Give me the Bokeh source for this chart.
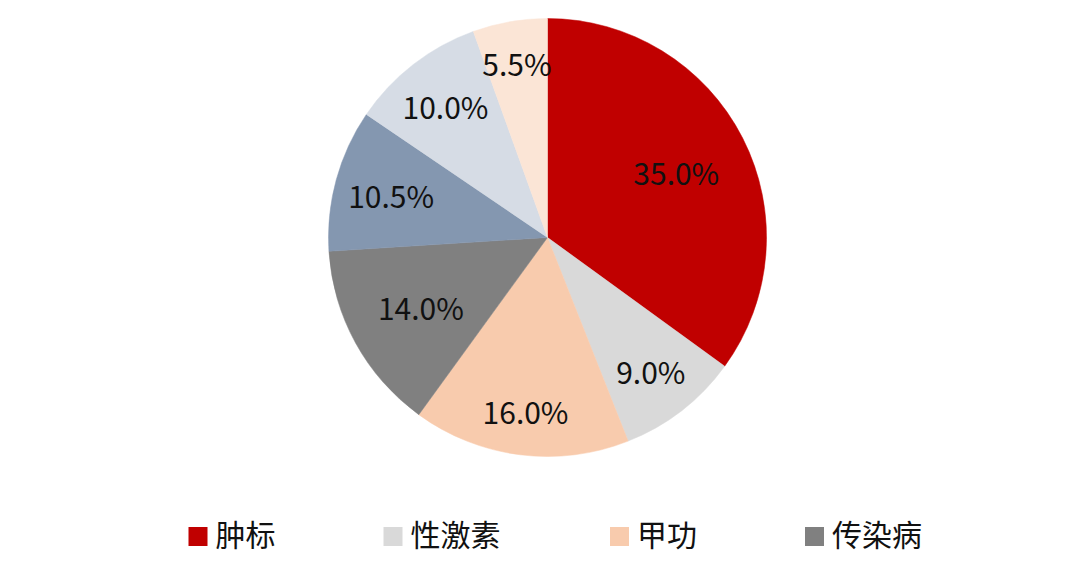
import math
from bokeh.plotting import figure
from bokeh.models import Range1d, ColumnDataSource
from bokeh.core.properties import value
from bokeh.embed import file_html
from bokeh.resources import INLINE

# ---- data ----
categories = ["肿标", "性激素", "甲功", "传染病", "类别5", "类别6", "类别7"]
shares = [35.0, 9.0, 16.0, 14.0, 10.5, 10.0, 5.5]
legend_categories = ["肿标", "性激素", "甲功", "传染病"]

# ---- style ----
colors = ["#C00000", "#D9D9D9", "#F8CBAD", "#808080", "#8497B0", "#D6DCE5", "#FBE5D6"]
label_radius_frac = [0.66, 0.77, 0.80, 0.66, 0.74, 0.76, 0.81]
FONT = "Noto Sans CJK SC"
W, H = 1064, 556

p = figure(width=W, height=H, x_range=Range1d(0, W), y_range=Range1d(0, H),
           output_backend="svg", toolbar_location=None,
           x_axis_location=None, y_axis_location=None, min_border=0)
p.grid.visible = False
p.outline_line_color = None
p.background_fill_color = "white"
p.border_fill_color = "white"

cx, cy, R = 547, H - 237, 219
total = sum(shares)
starts, ends, lx, ly, labels = [], [], [], [], []
cum = 0.0
for i, s in enumerate(shares):
    a0 = math.pi / 2 - 2 * math.pi * cum / total
    a1 = math.pi / 2 - 2 * math.pi * (cum + s) / total
    starts.append(a0)
    ends.append(a1)
    mid = (a0 + a1) / 2
    r = R * label_radius_frac[i]
    lx.append(cx + r * math.cos(mid))
    ly.append(cy + r * math.sin(mid))
    labels.append(f"{s:.1f}%")
    cum += s

src = ColumnDataSource(dict(start=starts, end=ends, color=colors, lx=lx, ly=ly, label=labels))
p.wedge(x=cx, y=cy, radius=R, start_angle="start", end_angle="end", direction="clock",
        fill_color="color", line_color="color", line_width=0.5, source=src)
p.text(x="lx", y="ly", text="label", source=src, text_align="center", text_baseline="middle",
       text_font=value(FONT), text_font_size="30px", text_color="#111111")

# legend (manual)
leg_y = H - 536
sq = 19
x = 188
sx, tx, tc = [], [], []
for i, name in enumerate(legend_categories):
    sx.append(x + sq / 2)
    tx.append(x + 27)
    tc.append(colors[i])
    x = x + 27 + len(name) * 31.5 + 105
leg = ColumnDataSource(dict(sx=sx, tx=tx, name=legend_categories, color=tc))
p.scatter(x="sx", y=leg_y, marker="square", size=sq, fill_color="color", line_color=None, source=leg)
p.text(x="tx", y=leg_y + 4, text="name", source=leg, text_align="left", text_baseline="middle",
       text_font=value(FONT), text_font_size="30px", text_color="#111111")

open("out.html", "w").write(file_html(p, INLINE))
